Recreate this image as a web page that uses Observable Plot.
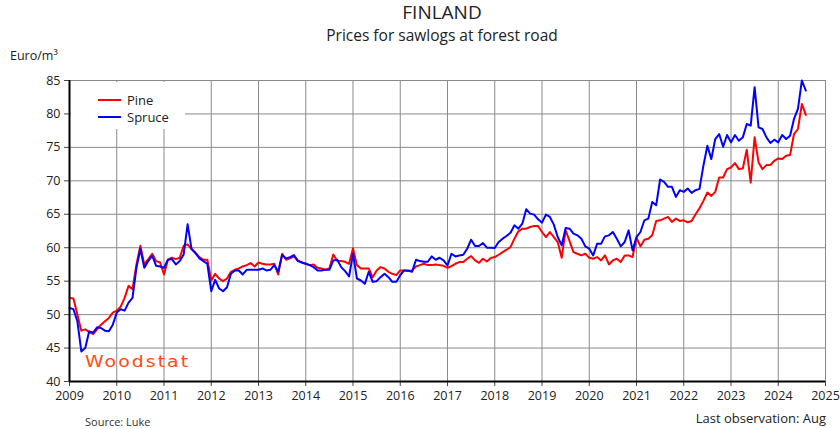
<!DOCTYPE html>
<html><head><meta charset="utf-8">
<script src="https://cdn.jsdelivr.net/npm/d3@7"></script>
<script src="https://cdn.jsdelivr.net/npm/@observablehq/plot@0.6"></script>
<style>
body{margin:0;background:#fff;font-family:"Open Sans",sans-serif;color:#222;}
#wrap{position:relative;width:840px;height:429px;overflow:hidden;}
.abs{position:absolute;white-space:nowrap;line-height:1;}
</style></head><body>
<div id="wrap">
<div id="chart"></div>
<div class="abs" style="left:0;width:884px;top:3px;text-align:center;font-size:19px;">FINLAND</div>
<div class="abs" style="left:0;width:884px;top:28px;text-align:center;font-size:15.5px;">Prices for sawlogs at forest road</div>
<div class="abs" style="left:10px;top:50px;font-size:12.5px;">Euro/m³</div>
<div class="abs" id="legend" style="left:71px;top:82px;width:114px;height:47px;background:#fff;"></div>
<div class="abs" style="left:85px;top:355px;font-size:15px;letter-spacing:1.6px;color:#ff4a10;font-family:'DejaVu Sans',sans-serif;font-weight:400;transform:scaleX(1.26);transform-origin:0 0;">Woodstat</div>
<div class="abs" style="left:85px;top:416px;font-size:11px;color:#333;">Source: Luke</div>
<div class="abs" style="right:14px;top:412px;font-size:13px;">Last observation: Aug</div>
</div>
<script>
const startYear = 2009;
const years = [2009,2010,2011,2012,2013,2014,2015,2016,2017,2018,2019,2020,2021,2022,2023,2024,2025];
const yTicks = [40,45,50,55,60,65,70,75,80,85];
const seriesNames = ["Pine","Spruce"];
const seriesColors = ["#ff0000","#0000ff"];

// Monthly prices, Jan 2009 - Aug 2024 (EUR/m3)
const pine = [
  52.5,52.4,50.0,47.6,47.8,47.4,47.1,47.8,48.5,49.0,49.5,50.3,
  50.6,51.2,52.5,54.3,53.8,57.5,60.3,57.5,58.3,59.1,58.0,57.8,
  56.0,58.2,58.5,58.3,58.5,60.3,60.5,59.8,59.2,58.6,58.2,58.2,
  55.1,56.1,55.4,55.0,55.4,56.4,56.7,56.9,57.2,57.4,57.7,57.2,
  57.8,57.6,57.5,57.5,57.6,56.0,59.1,58.2,58.4,58.7,58.1,57.8,
  57.6,57.4,57.5,57.0,56.9,56.7,56.9,59.0,58.0,58.0,57.9,57.6,
  59.9,57.4,56.9,56.9,56.9,55.6,56.6,57.1,56.9,56.4,56.1,55.9,
  56.6,56.6,56.5,56.6,57.2,57.4,57.6,57.4,57.4,57.5,57.4,57.3,
  57.0,57.25,57.6,57.85,57.85,58.35,58.75,58.1,57.75,58.35,57.95,58.45,
  58.6,58.95,59.35,59.7,60.1,61.35,62.45,62.85,62.85,63.1,63.25,63.25,
  62.35,61.6,62.35,61.6,60.85,58.5,62.6,61.0,59.35,59.1,58.85,59.1,
  58.5,58.35,58.6,58.1,58.85,57.5,58.1,58.35,57.85,58.85,58.85,58.6,
  61.5,60.2,61.2,61.35,61.85,64.0,64.1,64.35,64.6,63.85,64.35,64.0,
  64.1,63.8,64.0,65.0,65.9,67.0,68.25,67.75,68.35,70.5,70.5,71.75,
  72.0,72.65,71.75,71.85,74.65,69.75,76.5,72.75,71.75,72.35,72.35,73.0,
  73.35,73.25,73.75,73.85,77.0,77.75,81.5,79.85
];
const spruce = [
  51.0,50.8,49.0,44.5,45.0,47.5,47.3,48.1,48.0,47.6,47.5,48.5,
  50.3,50.8,50.6,51.8,52.5,57.0,59.8,57.0,58.0,58.8,57.3,57.2,
  57.0,58.2,58.3,57.5,58.0,59.0,63.5,59.8,59.2,58.4,58.0,57.6,
  53.5,55.2,53.9,53.5,54.1,56.1,56.6,56.6,56.0,56.7,56.7,56.7,
  56.7,56.9,56.6,56.7,57.4,56.4,58.9,58.4,58.6,58.9,58.0,57.8,
  57.6,57.4,57.1,56.6,56.6,56.7,56.7,58.1,58.2,57.1,56.5,55.7,
  59.1,55.4,55.1,54.6,56.4,54.9,55.0,55.6,56.1,55.6,54.9,54.9,
  55.9,56.6,56.6,56.4,58.2,58.0,57.9,57.9,58.7,58.2,58.5,58.1,
  57.35,59.1,58.7,58.85,58.95,59.85,61.2,60.25,60.25,60.7,60.0,60.0,
  59.95,60.85,61.35,61.75,62.25,63.35,62.85,63.6,65.75,65.1,64.95,64.25,
  63.75,64.95,64.6,63.45,61.6,60.35,62.95,62.85,62.1,61.85,61.35,60.2,
  59.85,58.85,60.6,60.6,61.7,61.85,62.35,61.35,60.2,60.85,62.6,59.6,
  61.6,62.35,64.1,64.35,66.85,66.35,70.2,69.85,69.1,69.1,67.6,68.6,
  68.35,68.85,68.2,68.6,68.8,72.3,75.25,73.25,76.25,77.0,75.1,76.85,
  75.75,76.85,76.0,76.5,78.5,78.25,84.0,78.0,77.75,76.5,75.65,76.15,
  75.75,76.85,76.25,76.75,79.25,80.75,85.0,83.5
];

const table = [];
[pine, spruce].forEach((arr, s) => arr.forEach((v, i) => table.push({series: seriesNames[s], t: startYear + i / 12, v})));

const chart = Plot.plot({
  width: 840, height: 429,
  marginTop: 80, marginBottom: 48, marginLeft: 69, marginRight: 15,
  style: {fontFamily: "'Open Sans', sans-serif", fontSize: "12.5px", color: "#222", background: "transparent"},
  x: {domain: [2009, 2025]},
  y: {domain: [40, 85]},
  color: {domain: seriesNames, range: seriesColors},
  marks: [
    Plot.gridX(years.slice(1), {stroke: "#8a8a8a", strokeOpacity: 1, strokeWidth: 1}),
    Plot.gridY(yTicks.slice(1), {stroke: "#8a8a8a", strokeOpacity: 1, strokeWidth: 1}),
    Plot.line(table, {x: "t", y: "v", z: "series", stroke: "series", strokeWidth: 2}),
    Plot.axisX({ticks: years, tickSize: 5, tickPadding: 5, tickFormat: d => String(d), label: null, stroke: "#444"}),
    Plot.axisY({ticks: yTicks, tickSize: 5, tickPadding: 4, label: null, stroke: "#444"}),
    Plot.ruleY([40], {stroke: "#000", strokeWidth: 2}),
    Plot.ruleX([2009], {stroke: "#000", strokeWidth: 2})
  ]
});
document.getElementById("chart").appendChild(chart);

// legend
const lg = document.getElementById("legend");
seriesNames.forEach((name, i) => {
  const row = document.createElement("div");
  row.style.cssText = `position:absolute;left:27px;top:${11 + i * 17}px;height:14px;display:flex;align-items:center;font-size:13px;`;
  row.innerHTML = `<span style="display:inline-block;width:23px;height:2px;background:${seriesColors[i]};margin-right:6px;"></span>${name}`;
  lg.appendChild(row);
});
</script>
</body></html>
